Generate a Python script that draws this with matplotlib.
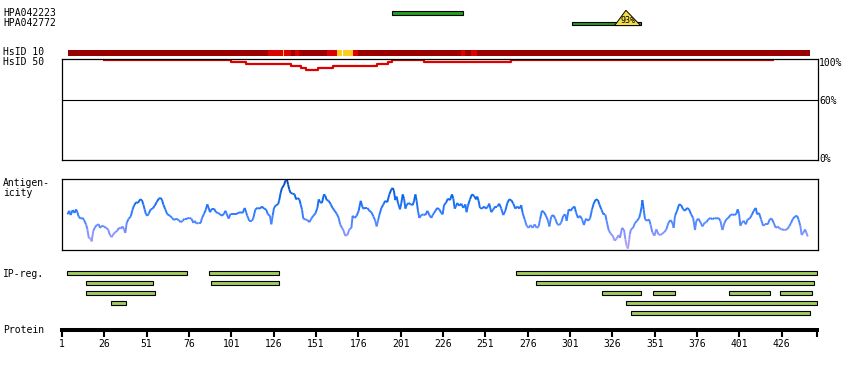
import matplotlib
matplotlib.use("Agg")
import matplotlib.pyplot as plt
import numpy as np
from matplotlib.collections import LineCollection
from matplotlib.colors import LinearSegmentedColormap
from matplotlib.patches import Polygon

# ---------------------------------------------
# data (residue positions along the protein)
PROT_LEN = 446.6

hpa_names = ["HPA042223", "HPA042772"]
hpa_start = [196, 302]
hpa_end = [238, 343]
tri_pos = 335          # position of the identity triangle on HPA042772
tri_label = "93%"

# HsID 10 : colour level per segment (0 dark, 1 red, 2 yellow, -1 gap)
hs10_start = [4.5, 122.6, 131.5, 132.1, 136.2, 138.6, 141, 157.5, 163.4, 166.3,
              166.9, 172.8, 175.8, 236.6, 239, 242.5, 246]
hs10_end = [122.6, 131.5, 132.1, 136.2, 138.6, 141, 157.5, 163.4, 166.3, 166.9,
            172.8, 175.8, 236.6, 239, 242.5, 246, 442.6]
hs10_level = [0, 1, 2, 1, 0, 1, 0, 1, 2, -1, 2, 1, 0, 1, 0, 1, 0]

# HsID 50 : identity (%) by segment
hs50_start = [25.2, 100.8, 109.7, 136.2, 142.1, 145.1, 152.2, 161, 187, 193.5,
              195.9, 214.8, 266.1]
hs50_end = [100.8, 109.7, 136.2, 142.1, 145.1, 152.2, 161, 187, 193.5, 195.9,
            214.8, 266.1, 421.3]
hs50_pct = [100, 98.5, 96.5, 94.5, 92.5, 90.5, 92.5, 94.5, 96.5, 98.5, 100, 98.3, 100]

# antigenicity profile (0 = bottom of box, 100 = top)
ag_res = [
    4.2, 5.3, 6.1, 7.3, 8.5, 9.3, 10.1, 10.8, 12.0, 13.2, 14.0, 15.2, 16.0, 16.8, 18.0,
    18.5, 19.5, 20.3, 21.5, 22.7, 23.4, 24.6, 25.8, 27.0, 28.2, 29.3, 30.3, 31.3, 32.5,
    33.7, 34.5, 35.6, 36.8, 37.6, 38.4, 39.2, 40.4, 41.6, 42.7, 43.5, 44.7, 45.9, 47.1,
    48.2, 49.0, 49.8, 50.6, 51.4, 52.2, 53.4, 54.5, 55.7, 56.9, 58.1, 59.3, 60.1, 60.8,
    62.0, 63.2, 64.8, 66.0, 67.1, 68.3, 69.9, 71.1, 72.3, 73.4, 74.6, 76.2, 77.4, 78.6,
    79.3, 80.5, 81.7, 82.9, 83.7, 84.9, 86.0, 86.8, 87.6, 88.4, 89.6, 90.8, 91.9, 93.1,
    94.3, 95.5, 96.7, 97.5, 98.2, 99.4, 100.6, 102.2, 104.2, 106.1, 107.7, 108.9, 109.7,
    110.4, 111.6, 113.2,
    114.0, 115.2, 116.4, 117.9, 119.1, 120.3, 121.5, 122.6, 123.8, 124.6, 125.4, 126.2,
    127.4, 128.6, 129.3, 130.1, 130.9, 132.1, 132.9, 133.7, 134.5, 135.2, 136.0, 137.2,
    138.4, 139.2, 140.0, 141.2, 141.9, 142.7, 143.5, 144.7, 145.9, 147.1, 148.2, 149.4,
    150.6, 151.8, 152.6, 153.4, 154.5, 155.7, 156.5, 157.3, 158.5, 159.7, 160.8, 162.0,
    163.2, 164.4, 165.2, 166.4, 167.1, 168.3, 169.5, 170.7, 171.9, 172.6, 173.8, 175.0,
    176.2, 177.4, 178.2, 178.9, 180.1, 181.3, 182.5, 183.7, 184.9, 186.0, 186.8, 187.6,
    188.4, 189.6, 190.8, 191.9, 193.1, 194.3, 195.5, 196.3, 197.0, 197.8, 198.6, 199.4,
    200.6, 201.4, 202.2, 203.0, 203.8, 204.5, 205.7, 206.9, 208.1, 208.9, 209.7, 210.4,
    211.2, 212.0, 213.2, 214.4, 215.6, 216.8, 217.9, 219.1, 219.9, 220.7, 221.5, 222.6,
    223.8, 225.0, 225.8,
    226.6, 227.7, 228.9, 230.1, 231.3, 232.1, 232.9, 233.6, 234.4, 235.6, 236.8, 238.0,
    239.2, 239.9, 240.7, 241.9, 243.1, 244.3, 245.5, 246.2, 247.0, 247.8, 249.0, 250.2,
    251.4, 252.5, 253.3, 254.5, 255.7, 256.9, 258.1, 259.2, 260.4, 261.6, 262.8, 264.0,
    265.1, 266.3, 267.5, 268.7, 269.9, 271.1, 272.2, 273.0, 274.2, 275.4, 276.6, 277.7,
    278.9, 280.1, 281.3, 282.5, 283.3, 284.4, 285.6, 286.8, 288.0, 288.8, 289.9, 291.1,
    292.3, 293.5, 294.7, 295.9, 297.0, 298.2, 299.0, 300.2, 301.4, 302.5, 303.7, 304.5,
    305.7, 306.9, 308.1, 309.2, 310.4, 311.6, 312.8, 314.0, 315.1, 316.3, 317.5, 318.3,
    319.5, 320.7, 321.8, 322.6, 323.8, 325.0, 326.2, 327.4, 328.5, 329.7, 330.5, 331.7,
    332.9, 333.7, 334.4, 335.2, 336.0,
    336.3, 337.0, 338.2, 339.4, 340.6, 341.8, 342.6, 343.3, 343.7, 344.5, 345.3, 346.5,
    347.7, 348.5, 349.6, 350.8, 352.0, 353.2, 354.4, 355.5, 356.7, 357.9, 359.1, 360.3,
    361.5, 362.2, 363.0, 364.2, 365.4, 366.6, 367.8, 368.9, 370.1, 371.3, 372.5, 373.7,
    374.8, 375.6, 376.8, 378.0, 379.2, 380.4, 381.5, 382.7, 383.9, 385.1, 386.3, 387.4,
    388.6, 389.8, 391.0, 392.2, 393.3, 394.5, 395.7, 396.9, 398.1, 399.3, 400.0, 400.8,
    401.6, 402.4, 403.6, 404.8, 405.9, 407.1, 408.3, 409.5, 410.7, 411.5, 412.6, 413.8,
    415.0, 416.2, 417.8, 418.9, 420.1, 421.3, 422.5, 423.7, 424.8, 426.0, 427.6, 429.2,
    430.4, 431.5, 432.7, 433.9, 435.1, 435.9, 437.0, 437.8, 439.0, 439.8, 440.6, 441.4,
]
ag_val = [
    50, 55, 49, 56, 52, 57, 53, 47, 44, 45, 42, 36, 29, 17, 16,
    12, 27, 31, 35, 36, 31, 34, 33, 31, 29, 21, 18, 22, 25,
    27, 31, 30, 33, 29, 24, 38, 44, 47, 57, 62, 67, 66, 71,
    70, 64, 57, 50, 48, 51, 57, 58, 62, 67, 72, 73, 70, 64,
    57, 50, 48, 45, 42, 44, 42, 39, 41, 44, 44, 45, 44, 38,
    41, 37, 38, 38, 45, 51, 57, 64, 59, 53, 58, 58, 53, 52,
    50, 48, 51, 55, 51, 44, 51, 51, 51, 53, 52, 59, 53,
    48, 41, 41,
    45, 57, 59, 58, 61, 58, 57, 50, 48, 36, 48, 59,
    63, 64, 70, 80, 87, 91, 97, 100, 92, 85, 80, 79,
    78, 71, 73, 71, 64, 57, 44, 43, 42, 39, 44, 48,
    51, 59, 71, 67, 66, 78, 76, 70, 69, 64, 59, 55,
    51, 45, 36, 31, 28, 20, 21, 29, 31, 48, 45, 48,
    55, 69, 62, 58, 59, 59, 55, 53, 47, 41, 33, 41,
    49, 59, 64, 69, 67, 78, 85, 87, 83, 70, 75, 66,
    57, 66, 78, 72, 58, 63, 66, 64, 63, 69, 78, 69,
    55, 45, 49, 50, 49, 55, 49, 45, 49, 52, 55, 59,
    57, 52, 50,
    63, 66, 72, 70, 78, 72, 58, 61, 66, 62, 65, 59,
    64, 53, 62, 71, 78, 76, 71, 75, 69, 59, 58, 61,
    58, 61, 65, 53, 57, 61, 61, 65, 58, 49, 55, 66,
    71, 70, 65, 58, 61, 58, 63, 52, 43, 34, 31, 35,
    31, 36, 31, 33, 43, 55, 53, 48, 41, 33, 47, 49,
    44, 36, 35, 39, 48, 50, 41, 57, 55, 59, 61, 53,
    45, 48, 43, 35, 44, 41, 44, 57, 66, 71, 70, 64,
    57, 50, 50, 41, 28, 23, 20, 13, 16, 21, 17, 31,
    28, 15, 6, 2, 15,
    22, 29, 31, 38, 41, 45, 52, 61, 70, 57, 43, 41,
    43, 36, 25, 20, 29, 22, 21, 23, 25, 29, 38, 42,
    38, 31, 48, 55, 64, 63, 57, 55, 59, 57, 50, 45,
    28, 41, 44, 39, 33, 38, 39, 43, 45, 43, 45, 44,
    45, 41, 28, 38, 43, 45, 49, 50, 49, 51, 57, 51,
    34, 38, 41, 36, 43, 44, 49, 55, 59, 50, 52, 43,
    34, 36, 36, 43, 44, 38, 31, 33, 30, 29, 28, 29,
    33, 38, 44, 47, 48, 43, 34, 21, 25, 29, 24, 19,
]

# IP regions: row, start, end
ip_row = [0, 0, 0, 1, 1, 1, 2, 2, 2, 2, 2, 3, 3, 4]
ip_start = [4, 88, 269, 15, 89, 281, 15, 320, 350, 395, 425, 30, 334, 337]
ip_end = [75, 129, 446.6, 55, 129, 445.3, 56, 343, 363, 419, 444, 39, 446.6, 442.5]

prot_ticks = [1, 26, 51, 76, 101, 126, 151, 176, 201, 226, 251, 276, 301, 326,
              351, 376, 401, 426]

# ---------------------------------------------
W_PX, H_PX = 850, 370
X0, X1 = 62, 818
PX_PER_RES = 1.6934
XLIM = (1, 1 + (X1 - X0) / PX_PER_RES)

plt.rcParams["font.family"] = "DejaVu Sans Mono"
plt.rcParams["font.size"] = 7

fig = plt.figure(figsize=(W_PX / 100, H_PX / 100), dpi=100)


def px_axes(y0, y1, frame=False):
    ax = fig.add_axes([X0 / W_PX, 1 - y1 / H_PX, (X1 - X0) / W_PX, (y1 - y0) / H_PX])
    ax.set_xlim(*XLIM)
    ax.set_xticks([])
    ax.set_yticks([])
    for s in ax.spines.values():
        s.set_visible(frame)
        s.set_linewidth(0.9)
    ax.patch.set_alpha(0)
    return ax


def label(y, txt, x=3):
    fig.text(x / W_PX, 1 - y / H_PX, txt, va="center", ha="left", fontsize=7)


# HPA antibodies
ax = px_axes(3, 30)
ax.set_ylim((30 - 13.1) / 10.4, (3 - 13.1) / 10.4)
ax.barh(range(len(hpa_names)), np.array(hpa_end) - np.array(hpa_start),
        left=hpa_start, height=0.36, color="#22a01e", edgecolor="black", linewidth=0.8)
hw = 13 / PX_PER_RES
tri = Polygon([[tri_pos - hw, 1.2], [tri_pos + hw, 1.2], [tri_pos - 1, -0.27]],
              closed=True, facecolor="#f2dc48", edgecolor="black", linewidth=0.7, zorder=3)
ax.add_patch(tri)
ax.text(tri_pos, 0.75, tri_label, ha="center", va="center", fontsize=6, zorder=4)
label(12.7, hpa_names[0])
label(22.7, hpa_names[1])

# HsID 10
ax = px_axes(50, 55.5)
ax.set_ylim(0, 1)
lvl_col = {0: "#990000", 1: "#dd0000", 2: "#ffcc22"}
for s, e, l in zip(hs10_start, hs10_end, hs10_level):
    if l < 0:
        continue
    ax.barh(0.5, e - s, left=s, height=1, color=lvl_col[l], linewidth=0)
label(52.3, "HsID 10")

# HsID 50
ax = px_axes(58.5, 160, frame=True)
ax.set_ylim(0, 102)
ax.axhline(60, color="black", lw=0.8)
ax.step(hs50_start + [hs50_end[-1]], hs50_pct + [hs50_pct[-1]], where="post",
        color="#dd0000", lw=1.6, solid_capstyle="butt")
label(62.3, "HsID 50")
label(62.7, "100%", x=819)
label(100.7, "60%", x=819)
label(159.5, "0%", x=819)

# Antigenicity
ax = px_axes(178.7, 250, frame=True)
ax.set_ylim(0, 100)
cmap = LinearSegmentedColormap.from_list(
    "ag", [(0, "#b8a8f2"), (0.2, "#9094ff"), (0.4, "#4c86ff"), (0.55, "#2a78ff"),
           (0.75, "#0c66ea"), (1.0, "#0046b0")])
pts = np.column_stack([ag_res, ag_val])
segs = np.stack([pts[:-1], pts[1:]], axis=1)
mid = (np.array(ag_val[:-1]) + np.array(ag_val[1:])) / 2
lc = LineCollection(segs, colors=cmap(mid / 100), linewidths=1.4)
ax.add_collection(lc)
label(183.3, "Antigen-")
label(193.3, "icity")

# IP regions
ax = px_axes(266, 318)
ax.set_ylim((318 - 272.7) / 10, (266 - 272.7) / 10)
ax.barh(ip_row, np.array(ip_end) - np.array(ip_start), left=ip_start, height=0.36,
        color="#a0cc60", edgecolor="black", linewidth=0.8)
label(274, "IP-reg.")

# Protein axis
ax = fig.add_axes([X0 / W_PX, 1 - 330 / H_PX, (X1 - X0) / W_PX, 20 / H_PX])
ax.set_xlim(*XLIM)
ax.patch.set_alpha(0)
for s in ["top", "left", "right"]:
    ax.spines[s].set_visible(False)
ax.spines["bottom"].set_linewidth(2.9)
ax.spines["bottom"].set_bounds(1, PROT_LEN)
ax.set_yticks([])
ax.set_xticks(prot_ticks)
ax.set_xticks([PROT_LEN], minor=True)
ax.tick_params(axis="x", which="both", direction="out", length=5, width=1.5, pad=1.5,
               labelsize=7)
label(330, "Protein")

fig.savefig("out.png", dpi=100)
